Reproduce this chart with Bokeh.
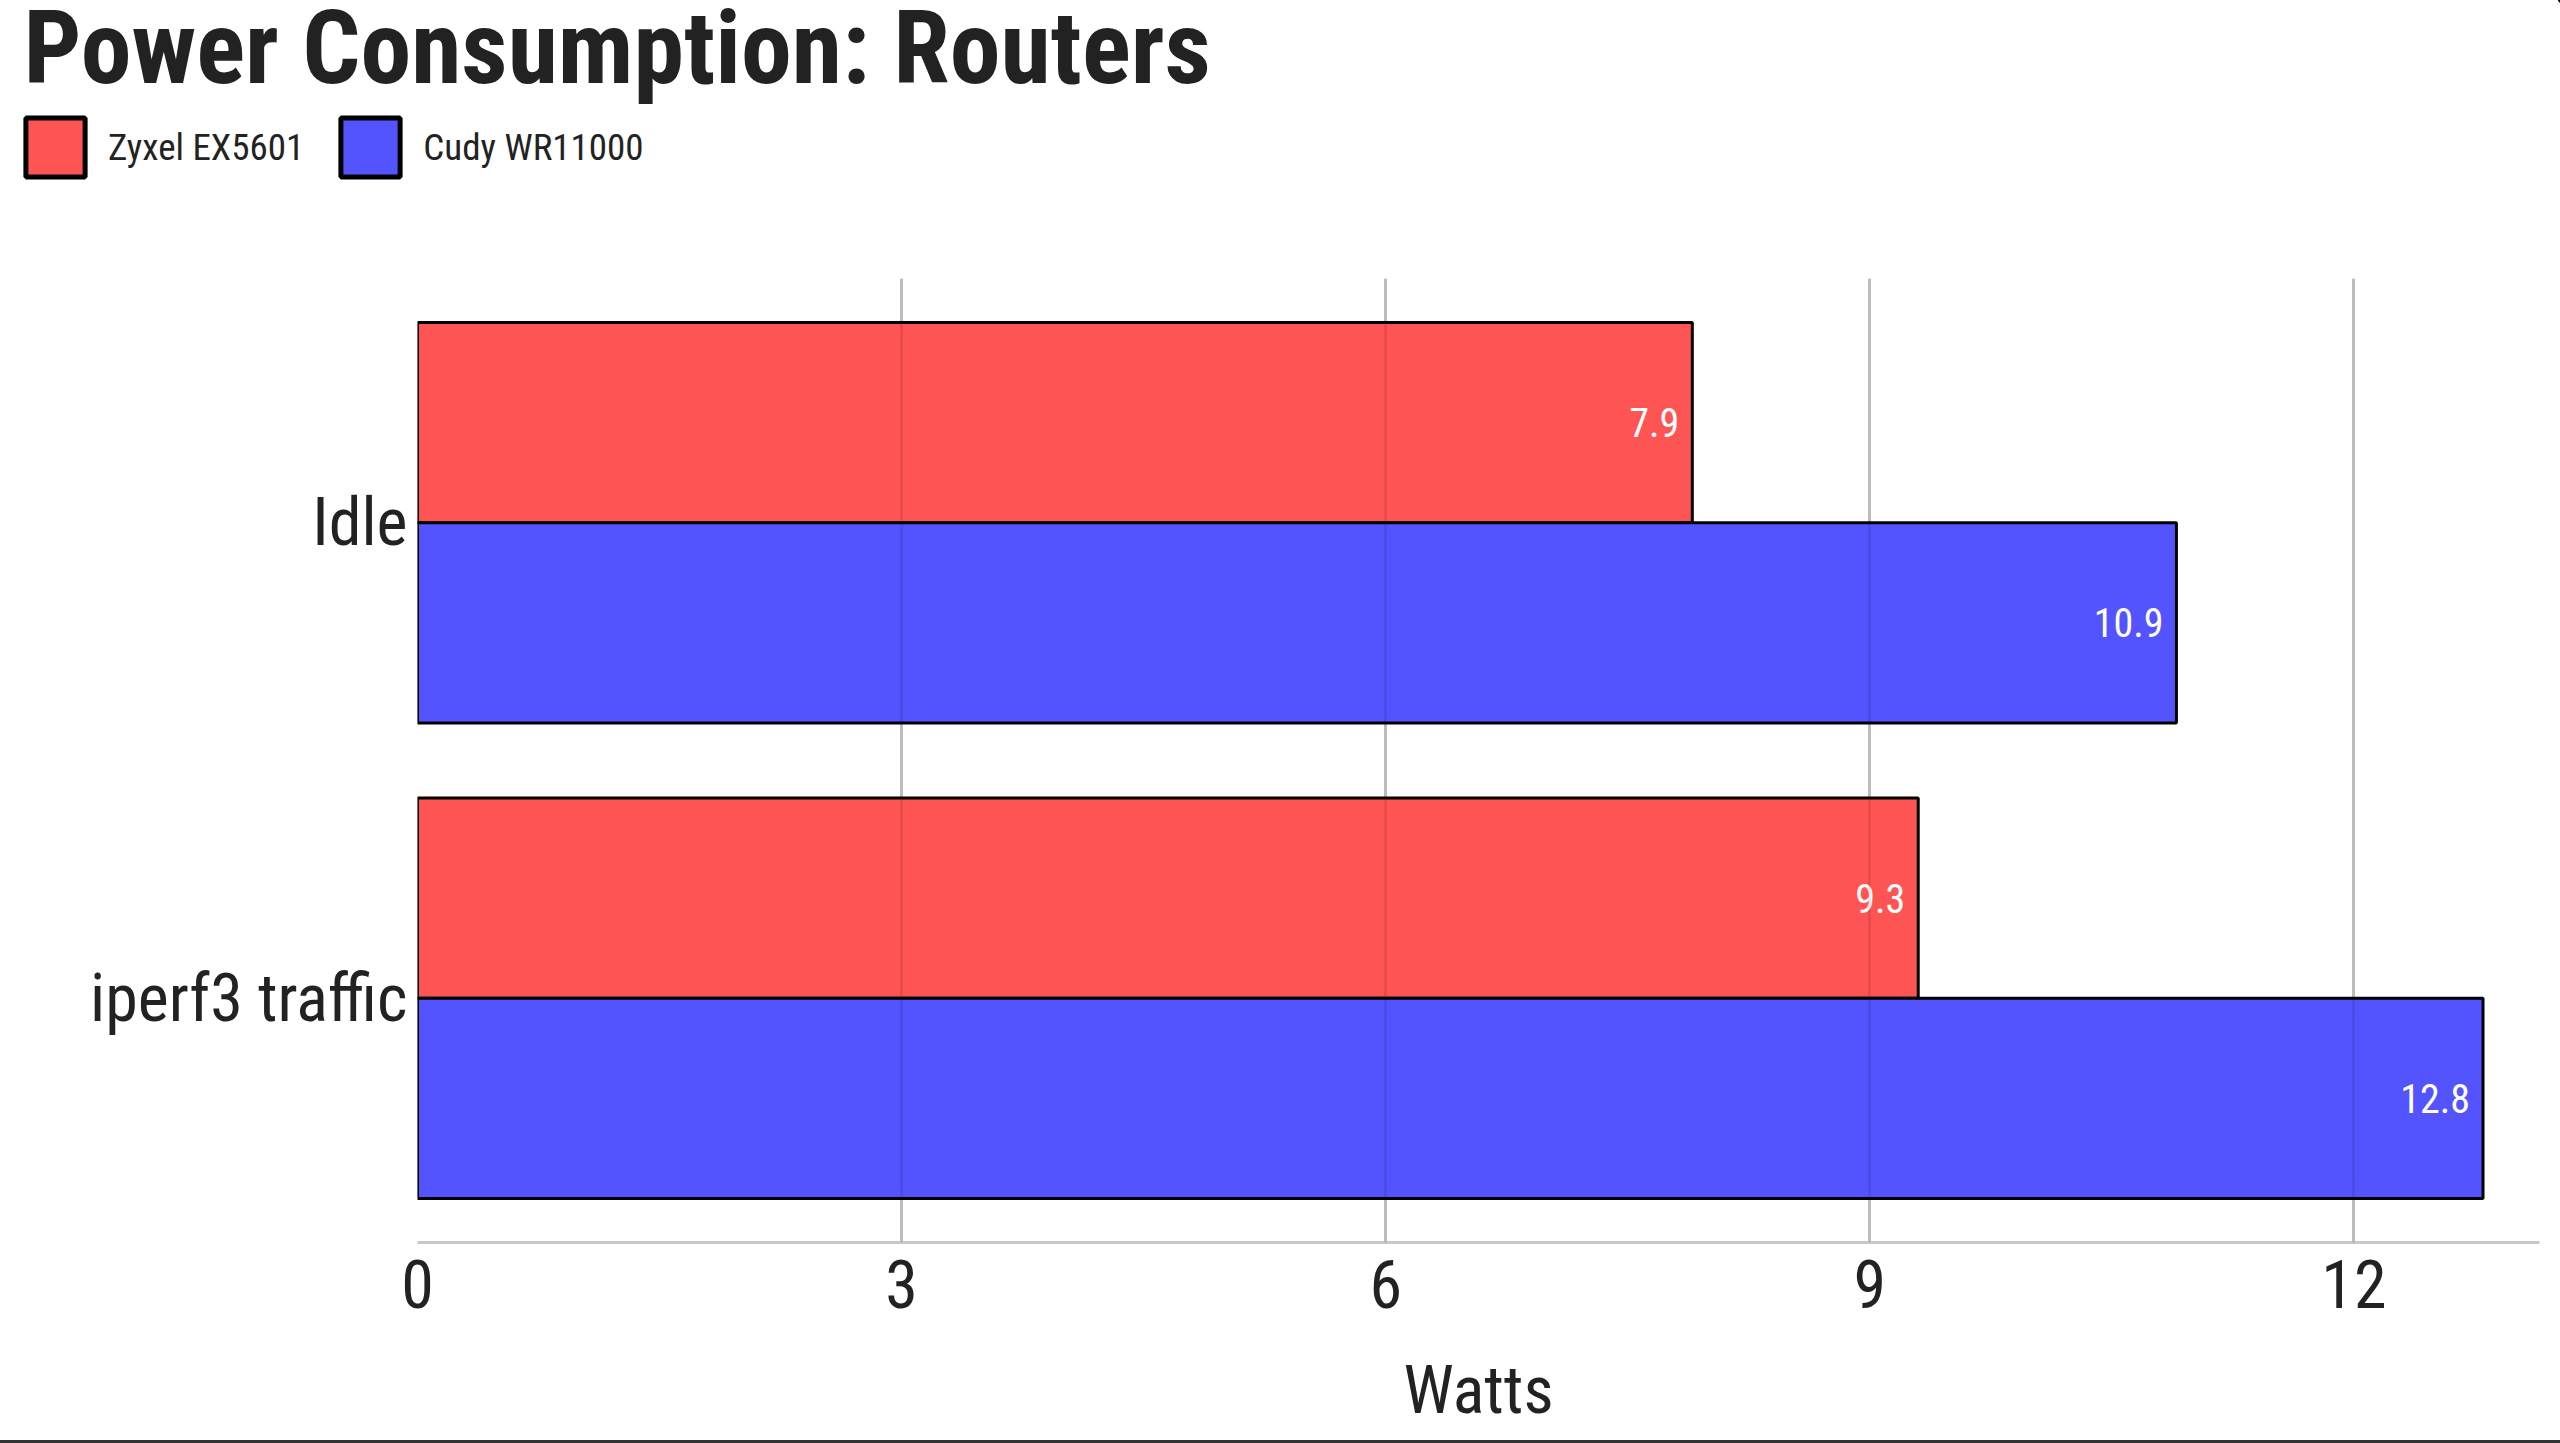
from bokeh.plotting import figure
from bokeh.models import (ColumnDataSource, FactorRange, Range1d, Legend, LegendItem,
                          Grid, FixedTicker, Div, Label)
from bokeh.transform import dodge
from bokeh.layouts import column
from bokeh.core.properties import value
from bokeh.embed import file_html
from bokeh.resources import INLINE

# ---- data ----
categories = ["Idle", "iperf3 traffic"]
series_names = ["Zyxel EX5601", "Cudy WR11000"]
zyxel_watts = [7.9, 9.3]
cudy_watts = [10.9, 12.8]
x_ticks = [0, 3, 6, 9, 12]
title_text = "Power Consumption: Routers"

FONT = "Roboto Condensed"
RED = "#FF5454"
BLUE = "#5454FF"
TXT = "#222222"
W = 2560
HEADER_H = 278

src = ColumnDataSource(dict(
    cat=categories,
    zyxel=zyxel_watts,
    cudy=cudy_watts,
    zyxel_lbl=[f"{v:.1f}" for v in zyxel_watts],
    cudy_lbl=[f"{v:.1f}" for v in cudy_watts],
))
y_range = FactorRange(factors=list(reversed(categories)), range_padding=0.0137)
bar_h = 0.421

# ---------------- header: title + legend ----------------
# its ranges lie away from the data, so its bars (kept only for the legend) stay out of view
hdr = figure(width=W, height=HEADER_H, x_range=Range1d(-2 * W, -W), y_range=Range1d(-200, -100),
             x_axis_type=None, y_axis_type=None, output_backend="svg",
             toolbar_location=None, min_border=0)
hdr.frame_align = False
hdr.outline_line_color = None
hdr.xgrid.visible = False
hdr.ygrid.visible = False
hdr.background_fill_color = "white"
hdr.border_fill_color = "white"

hdr.add_layout(Label(x=23, y=HEADER_H - 47, x_units="screen", y_units="screen",
                     text=title_text, text_font=FONT, text_font_size="102px",
                     text_font_style="bold", text_color=TXT, text_baseline="alphabetic"))

lg_z = hdr.hbar(y=dodge("cat", bar_h / 2, range=y_range), right="zyxel", left=0,
                height=bar_h, source=src, fill_color=RED, line_color="black", line_width=5)
lg_c = hdr.hbar(y=dodge("cat", -bar_h / 2, range=y_range), right="cudy", left=0,
                height=bar_h, source=src, fill_color=BLUE, line_color="black", line_width=5)
legend = Legend(items=[LegendItem(label=series_names[0], renderers=[lg_z]),
                       LegendItem(label=series_names[1], renderers=[lg_c])],
                orientation="horizontal", location=(18, 94),
                glyph_width=74, glyph_height=74, label_standoff=16, spacing=29,
                padding=0, margin=0, border_line_color=None,
                background_fill_alpha=0,
                label_text_font=FONT, label_text_font_size="37px",
                label_text_color=TXT, label_height=74)
hdr.add_layout(legend, "center")

# ---------------- main chart ----------------
p = figure(width=W, height=1440 - HEADER_H, y_range=y_range, x_range=Range1d(0, 13.15),
           output_backend="svg", toolbar_location=None,
           min_border_left=417, min_border_right=21, min_border_top=0,
           min_border_bottom=198)
p.frame_align = False
p.outline_line_color = None
p.background_fill_color = "white"
p.border_fill_color = "white"

r_z = p.hbar(y=dodge("cat", bar_h / 2, range=y_range), right="zyxel", left=0,
             height=bar_h, source=src, fill_color=RED, line_color="black", line_width=3)
r_c = p.hbar(y=dodge("cat", -bar_h / 2, range=y_range), right="cudy", left=0,
             height=bar_h, source=src, fill_color=BLUE, line_color="black", line_width=3)

for col, lbl, off in (("zyxel", "zyxel_lbl", bar_h / 2), ("cudy", "cudy_lbl", -bar_h / 2)):
    p.text(x=col, y=dodge("cat", off, range=y_range), text=lbl, source=src,
           x_offset=-13, text_align="right", text_baseline="middle",
           text_color="white", text_font=value(FONT), text_font_size="40px")

# axes
p.xaxis.ticker = FixedTicker(ticks=x_ticks)
p.xaxis.axis_line_color = "#c8c8c8"
p.xaxis.axis_line_width = 3
p.xaxis.major_tick_line_color = None
p.xaxis.minor_tick_line_color = None
p.xaxis.major_label_text_font = FONT
p.xaxis.major_label_text_font_size = "66px"
p.xaxis.major_label_text_color = TXT
p.xaxis.major_label_standoff = 11
p.xaxis.axis_label = "Watts"
p.xaxis.axis_label_text_font = FONT
p.xaxis.axis_label_text_font_size = "66px"
p.xaxis.axis_label_text_font_style = "normal"
p.xaxis.axis_label_text_color = TXT
p.xaxis.axis_label_standoff = 41

p.yaxis.axis_line_color = None
p.yaxis.major_tick_line_color = None
p.yaxis.minor_tick_line_color = None
p.yaxis.major_label_text_font = FONT
p.yaxis.major_label_text_font_size = "66px"
p.yaxis.major_label_text_color = TXT
p.yaxis.major_label_standoff = 4

# grids
p.ygrid.grid_line_color = None
p.xgrid.ticker = FixedTicker(ticks=x_ticks)
p.xgrid.grid_line_color = "#d0d0d0"
p.xgrid.grid_line_width = 3
over = Grid(dimension=0, ticker=FixedTicker(ticks=x_ticks), level="overlay",
            grid_line_color="black", grid_line_alpha=0.09, grid_line_width=3)
p.add_layout(over)

bottom_rule = Div(width=W, height=3, margin=0,
                  styles={"background-color": "#333333"})

layout = column(hdr, p, bottom_rule, spacing=0)
open("out.html", "w").write(file_html(layout, INLINE))
